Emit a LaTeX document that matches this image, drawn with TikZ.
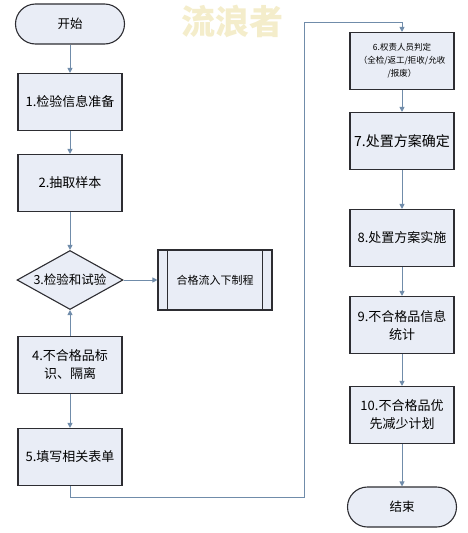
\documentclass[tikz,border=0pt]{standalone}
\usepackage{fontspec}
\setmainfont{Noto Sans CJK SC}
\usetikzlibrary{shapes.geometric,arrows.meta}
\definecolor{boxfill}{RGB}{233,237,246}
\definecolor{boxline}{RGB}{45,45,50}
\definecolor{flowline}{RGB}{112,140,170}
\definecolor{markfill}{RGB}{244,237,203}
\tikzset{
    stepbox/.style={draw=boxline, fill=boxfill, line width=1.1pt, minimum width=104pt,
        minimum height=57pt, align=center, inner sep=2pt, font=\fontsize{13}{18}\selectfont},
    terminal/.style={draw=boxline, fill=boxfill, line width=1.1pt, minimum width=109pt,
        minimum height=40pt, rounded corners=20pt, font=\fontsize{12.5}{15}\selectfont},
    decision/.style={draw=boxline, fill=boxfill, line width=1.1pt, diamond, aspect=1.8,
        minimum width=106pt, minimum height=59pt, inner sep=0pt, font=\fontsize{12.5}{15}\selectfont},
    flow/.style={draw=flowline, line width=1pt, -{Triangle[length=5pt,width=5pt]}}
}
\begin{document}
\begin{tikzpicture}[x=1pt, y=-1pt]
    \useasboundingbox (0,0) rectangle (468,533);

    % Watermark
    \node[text=markfill, font=\fontsize{34}{34}\selectfont\bfseries] (mark) at (232,21) {流浪者};

    % Left column
    \node[terminal] (start) at (70,24) {开始};
    \node[stepbox] (s1) at (70,102) {1.检验信息准备};
    \node[stepbox] (s2) at (70,183) {2.抽取样本};
    \node[decision] (s3) at (70,280) {3.检验和试验};
    \node[stepbox, minimum width=114pt, minimum height=60pt, font=\fontsize{11}{13}\selectfont] (pass) at (215,280) {合格流入下制程};
    \node[stepbox] (s4) at (70,365) {4.不合格品标\\识、隔离};
    \node[stepbox] (s5) at (70,457) {5.填写相关表单};

    % Subprocess side bars
    \draw[boxline, line width=1.1pt] ([xshift=10pt]pass.north west) -- ([xshift=10pt]pass.south west);
    \draw[boxline, line width=1.1pt] ([xshift=-10pt]pass.north east) -- ([xshift=-10pt]pass.south east);

    % Right column
    \node[stepbox, font=\fontsize{8.5}{13}\selectfont] (s6) at (402,61) {6.权责人员判定\\（全检/返工/拒收/允收\\/报废）};
    \node[stepbox, font=\fontsize{14}{18}\selectfont] (s7) at (402,141) {7.处置方案确定};
    \node[stepbox] (s8) at (402,238) {8.处置方案实施};
    \node[stepbox] (s9) at (402,325) {9.不合格品信息\\统计};
    \node[stepbox] (s10) at (402,415) {10.不合格品优\\先减少计划};
    \node[terminal] (end) at (402,507) {结束};

    % Connectors
    \draw[flow] (start) -- (s1);
    \draw[flow] (s1) -- (s2);
    \draw[flow] (s2) -- (s3);
    \draw[flow] (s3) -- (pass);
    \draw[flow] (s4) -- (s3);
    \draw[flow] (s4) -- (s5);
    \draw[flow] (s5.south) -- ++(0,11) -| (304,22) -| (s6.north);
    \draw[flow] (s6) -- (s7);
    \draw[flow] (s7) -- (s8);
    \draw[flow] (s8) -- (s9);
    \draw[flow] (s9) -- (s10);
    \draw[flow] (s10) -- (end);
\end{tikzpicture}
\end{document}
